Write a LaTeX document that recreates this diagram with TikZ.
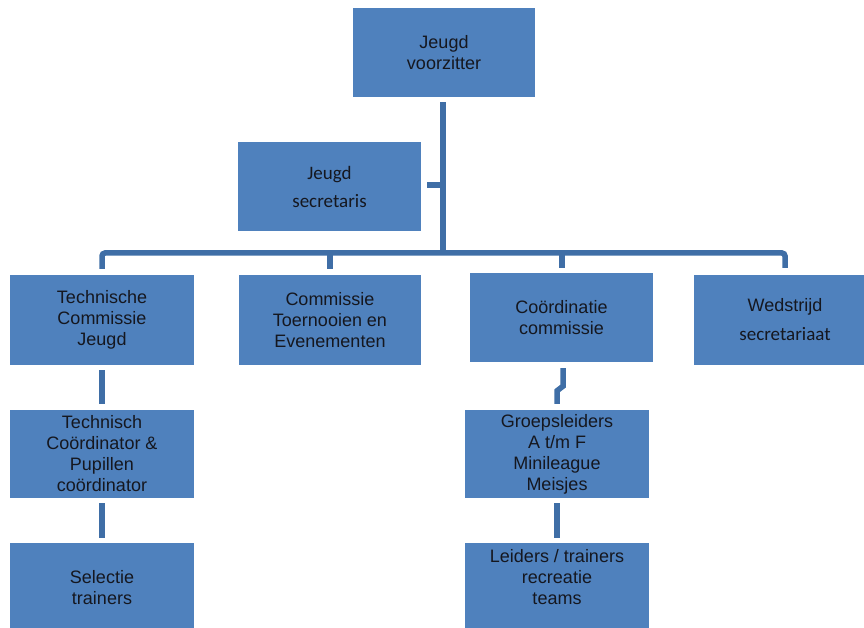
\documentclass[tikz,border=0pt]{standalone}
\usepackage{fontspec}
\setmainfont{Liberation Sans}
\newfontfamily\calib{Carlito}
\usetikzlibrary{calc}
\definecolor{boxblue}{HTML}{4F81BD}
\definecolor{linec}{HTML}{3F6EA6}
\definecolor{txtc}{HTML}{15171F}
\tikzset{
  orgbox/.style={rectangle, fill=boxblue, draw=none, text=txtc, align=center,
    inner sep=0pt, minimum width=#1, minimum height=89pt,
    font=\fontsize{18}{21}\selectfont},
  orgbox/.default=184pt,
  conn/.style={draw=linec, line width=5.5pt},
}
\begin{document}
\begin{tikzpicture}[x=1pt,y=-1pt]
\useasboundingbox (0,0) rectangle (864,628);
\clip (0,0) rectangle (864,628);
% boxes
\node[orgbox=182pt] (top) at (444,52.5) {Jeugd\\voorzitter};
\node[orgbox=183pt, font=\calib\fontsize{19}{28}\selectfont] (sec) at (329.5,186.5) {Jeugd\\secretaris};
\node[orgbox, minimum height=90pt] (tcj) at (102,320) {Technische\\Commissie\\Jeugd};
\node[orgbox=182pt, minimum height=90pt] (cte) at (330,320) {Commissie\\Toernooien en\\Evenementen};
\node[orgbox=183pt] (coo) at (561.5,317.5) {Coördinatie\\commissie};
\node[orgbox=182pt, minimum height=90pt] (wed) at (785,320) {Wedstrijd\\[8pt]{\calib\fontsize{19}{21}\selectfont secretariaat}};
\node[orgbox, minimum height=88pt] (tco) at (102,454) {Technisch\\Coördinator \&\\Pupillen\\coördinator};
\node[orgbox] (sel) at (102,587.5) {Selectie\\trainers};
\node[orgbox, minimum height=88pt] (grp) at (557,454) {Groepsleiders\\A t/m F\\Minileague\\Meisjes};
\node[orgbox] (lei) at (557,587.5) {Leiders / trainers\\recreatie\\teams\\\mbox{}};
% connectors
\coordinate (bus) at (443,253);
\draw[conn] ($(top.south)+(-1,5)$) -- (bus);
\draw[conn] ($(sec.east)+(6,-1.5)$) -- (bus |- {$(sec.east)+(0,-1.5)$});
\draw[conn, rounded corners=3pt] ($(tcj.north)+(0,-6)$) |- (bus -| wed.north) -- ($(wed.north)+(0,-7)$);
\draw[conn] ($(cte.north)+(0,-6)$) -- (bus -| cte.north);
\draw[conn] ($(coo.north)+(0.5,-5)$) -- ($(bus -| coo.north)+(0.5,0)$);
\draw[conn] ($(tcj.south)+(0,5)$) -- ($(tco.north)+(0,-6)$);
\draw[conn] ($(tco.south)+(0,5)$) -- ($(sel.north)+(0,-5)$);
\draw[conn] ($(coo.south)+(1.5,6)$) -- ($(coo.south)+(1.5,24)$) -- ($(grp.north)+(0,-19)$) -- ($(grp.north)+(0,-6)$);
\draw[conn] ($(grp.south)+(0,5)$) -- ($(lei.north)+(0,-5)$);
\end{tikzpicture}
\end{document}
